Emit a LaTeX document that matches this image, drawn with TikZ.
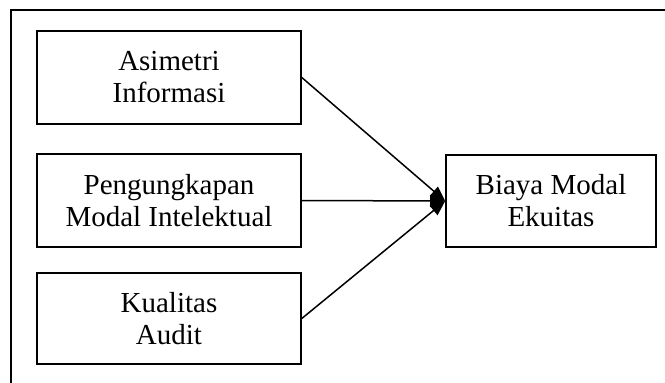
\documentclass[tikz,border=0pt]{standalone}
\usepackage{fontspec}
\setmainfont{Liberation Serif}
\usetikzlibrary{arrows.meta}
\tikzset{
  varbox/.style={draw, line width=1.6pt, align=center, inner sep=0pt,
    font=\fontsize{29}{32}\selectfont},
  conn/.style={line width=1.5pt, -{Triangle[length=15pt,width=12pt]}},
}
\begin{document}
\begin{tikzpicture}[x=1pt,y=-1pt]
\useasboundingbox (0,0) rectangle (665,383);
\coordinate (ftop) at (665,10);
\coordinate (fcorner) at (11,10);
\coordinate (fbot) at (11,383);
\draw[line width=1.6pt] (ftop) -- (fcorner) -- (fbot);
\node[varbox, minimum width=264pt, minimum height=93pt] (a) at (169,77.5) {Asimetri\\Informasi};
\node[varbox, minimum width=264pt, minimum height=93pt] (p) at (169,200.5) {Pengungkapan\\Modal Intelektual};
\node[varbox, minimum width=264pt, minimum height=91pt] (k) at (169,318.5) {Kualitas\\Audit};
\node[varbox, minimum width=210pt, minimum height=92pt] (b) at (551,201) {Biaya Modal\\Ekuitas};
\draw[conn] (a.east) -- (b.west);
\draw[conn] (p.east) -- (b.west);
\draw[conn] (k.east) -- (b.west);
\end{tikzpicture}
\end{document}
